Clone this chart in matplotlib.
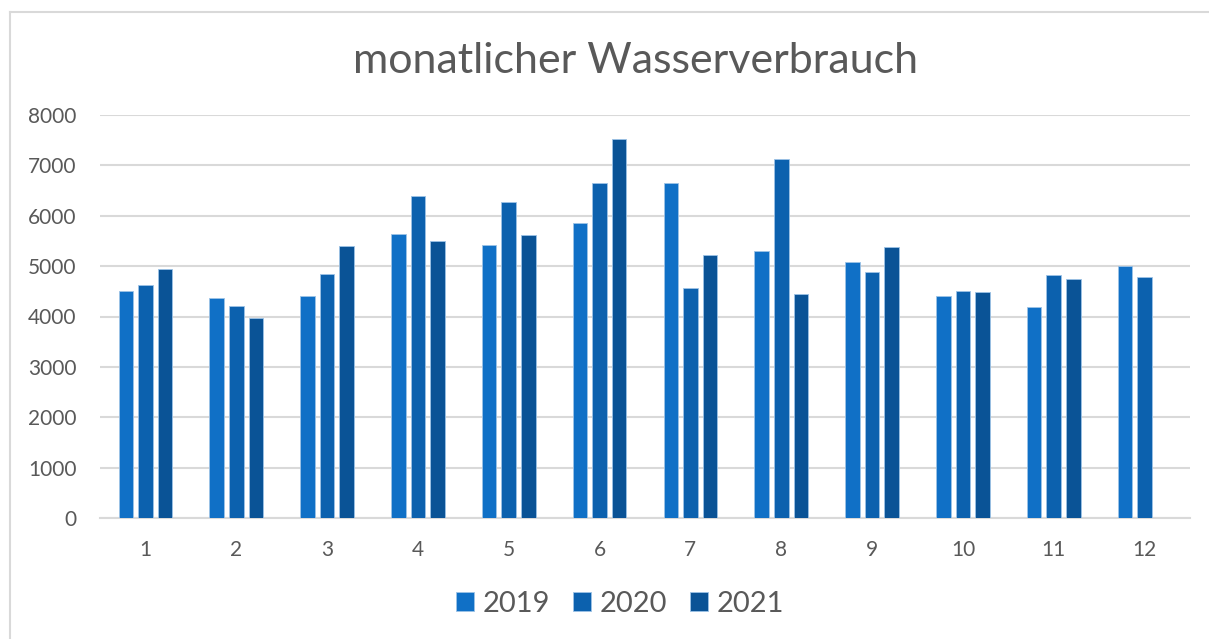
import matplotlib.pyplot as plt
import numpy as np
from matplotlib.lines import Line2D

plt.rcParams['font.family'] = ['Lato', 'DejaVu Sans']

months = [str(m) for m in range(1, 13)]
years = ["2019", "2020", "2021"]
v2019 = [4510, 4370, 4410, 5640, 5410, 5860, 6650, 5310, 5080, 4410, 4190, 5000]
v2020 = [4620, 4200, 4840, 6400, 6280, 6660, 4560, 7120, 4880, 4510, 4820, 4780]
v2021 = [4940, 3980, 5400, 5490, 5620, 7520, 5230, 4440, 5380, 4480, 4740, np.nan]
colors = ["#1070C6", "#0C61AE", "#0A5396"]
text_col = "#595959"
grid_col = "#D9D9D9"

W, H = 1209, 639
fig = plt.figure(figsize=(W / 100, H / 100), dpi=100)
# chart frame: only the top and left edges are visible
fig.lines.append(Line2D([10 / W, 1], [1 - 12 / H, 1 - 12 / H], transform=fig.transFigure,
                        color=grid_col, linewidth=1.5))
fig.lines.append(Line2D([10 / W, 10 / W], [0, 1 - 12 / H], transform=fig.transFigure,
                        color=grid_col, linewidth=1.5))
ax = fig.add_axes([100 / W, 1 - 518 / H, 1090 / W, 403 / H])

x = np.arange(len(months))
w = 0.16
step = 0.215
for i, (vals, yr) in enumerate(zip([v2019, v2020, v2021], years)):
    ax.bar(x + (i - 1) * step, vals, w, color=colors[i], label=yr,
           edgecolor="#9DC3E6", linewidth=0.6, zorder=3)

ax.set_xlim(-0.5, 11.5)
ax.set_ylim(0, 8000)
ax.set_yticks(range(0, 8001, 1000))
ax.set_xticks(x, months)
ax.grid(axis="y", color=grid_col, linewidth=1.5, zorder=0)
for s in ["top", "right", "left"]:
    ax.spines[s].set_visible(False)
ax.spines["bottom"].set_color(grid_col)
ax.spines["bottom"].set_linewidth(1.5)
ax.tick_params(axis="both", length=0, labelsize=15, labelcolor=text_col)
ax.tick_params(axis="y", pad=17)
ax.tick_params(axis="x", pad=16)

fig.text(636 / W, 1 - 61 / H, "monatlicher Wasserverbrauch", ha="center", va="center",
         fontsize=31, color=text_col)

leg = fig.legend(loc="center", bbox_to_anchor=(620 / W, 1 - 604 / H), ncol=3,
                 frameon=False, fontsize=21, handlelength=0.6, handleheight=0.6,
                 handletextpad=0.3, columnspacing=0.8)
for t in leg.get_texts():
    t.set_color(text_col)

fig.savefig("out.png", dpi=100)
